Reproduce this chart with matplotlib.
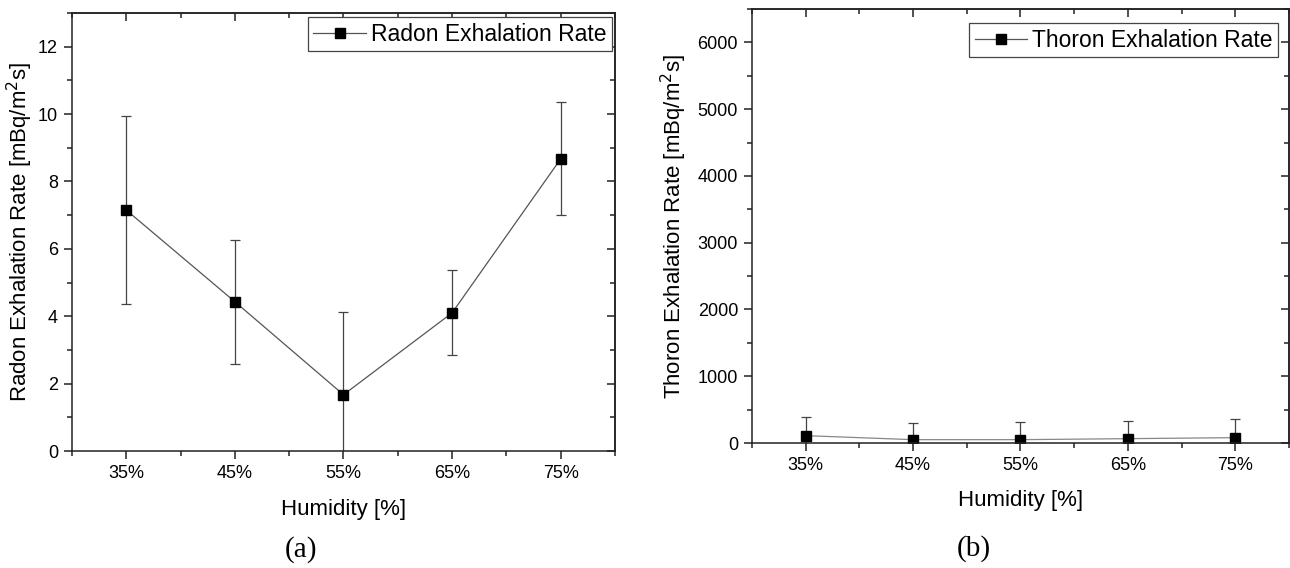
import matplotlib
matplotlib.use('Agg')
import matplotlib.pyplot as plt
from matplotlib.lines import Line2D
from matplotlib.ticker import MultipleLocator, FixedLocator

plt.rcParams['font.family'] = ['Liberation Sans', 'DejaVu Sans']

# Data
humidity = [35, 45, 55, 65, 75]
humidity_labels = ['35%', '45%', '55%', '65%', '75%']

radon_rate = [7.15, 4.43, 1.67, 4.10, 8.67]
radon_err = [2.80, 1.84, 2.45, 1.26, 1.68]

thoron_rate = [110, 50, 50, 65, 80]
thoron_err = [280, 243, 260, 260, 272]

fig = plt.figure(figsize=(12.9, 5.68), dpi=100)

ax1 = fig.add_axes([72 / 1290, 1 - 451 / 568, 543 / 1290, 438 / 568])
ax2 = fig.add_axes([752 / 1290, 1 - 443 / 568, 537 / 1290, 434 / 568])

AX_COLOR = '#222222'


def style_axis(ax, ylim, ymajor, yminor):
    ax.set_xlim(30, 80)
    ax.set_ylim(*ylim)
    ax.xaxis.set_major_locator(FixedLocator(humidity))
    ax.set_xticklabels(humidity_labels)
    ax.xaxis.set_minor_locator(MultipleLocator(10))
    ax.yaxis.set_major_locator(MultipleLocator(ymajor))
    ax.yaxis.set_minor_locator(MultipleLocator(yminor))
    for side in ax.spines.values():
        side.set_linewidth(1.1)
        side.set_color(AX_COLOR)
    ax.tick_params(which='both', direction='out', color=AX_COLOR, width=1.1)
    ax.tick_params(which='major', length=6, labelsize=13, pad=4)
    ax.tick_params(which='minor', length=3.5)

    # top and right ticks point inwards, no labels
    top = ax.secondary_xaxis('top')
    top.xaxis.set_major_locator(FixedLocator(humidity))
    top.xaxis.set_minor_locator(MultipleLocator(10))
    right = ax.secondary_yaxis('right')
    right.yaxis.set_major_locator(MultipleLocator(ymajor))
    right.yaxis.set_minor_locator(MultipleLocator(yminor))
    for sec in (top, right):
        for side in sec.spines.values():
            side.set_linewidth(1.1)
            side.set_color(AX_COLOR)
        sec.tick_params(which='both', direction='in', color=AX_COLOR, width=1.1,
                        labeltop=False, labelright=False)
        sec.tick_params(which='major', length=6)
        sec.tick_params(which='minor', length=3.5)


def add_legend(ax, label, line_color, anchor):
    handle = Line2D([], [], color=line_color, lw=0.9, marker='s', markersize=7,
                    mfc='black', mec='black')
    leg = ax.legend([handle], [label], loc='upper right', bbox_to_anchor=anchor,
                    borderaxespad=0, fontsize=16.5, fancybox=False, framealpha=1,
                    edgecolor='#444444', borderpad=0.25, handlelength=2.3,
                    handletextpad=0.2)
    leg.get_frame().set_linewidth(0.9)


# (a) Radon
ax1.errorbar(humidity, radon_rate, yerr=radon_err, color='#555555', lw=0.9,
             ecolor='#444444', elinewidth=0.9, capsize=3.5, capthick=0.9,
             marker='s', markersize=7, mfc='black', mec='black')
style_axis(ax1, (0, 13), 2, 1)
ax1.set_ylabel('Radon Exhalation Rate [mBq/m$^2$s]', fontsize=16)
ax1.set_xlabel('Humidity [%]', fontsize=16)
ax1.yaxis.set_label_coords(-0.068, 0.5)
ax1.xaxis.set_label_coords(0.5, -0.11)
add_legend(ax1, 'Radon Exhalation Rate', '#555555', (0.9945, 0.991))

# (b) Thoron
ax2.errorbar(humidity, thoron_rate, yerr=thoron_err, color='#888888', lw=0.9,
             ecolor='#444444', elinewidth=0.9, capsize=3.5, capthick=0.9,
             marker='s', markersize=7, mfc='black', mec='black')
style_axis(ax2, (0, 6500), 1000, 500)
ax2.set_ylabel('Thoron Exhalation Rate [mBq/m$^2$s]', fontsize=16)
ax2.set_xlabel('Humidity [%]', fontsize=16)
ax2.yaxis.set_label_coords(-0.117, 0.5)
ax2.xaxis.set_label_coords(0.5, -0.108)
add_legend(ax2, 'Thoron Exhalation Rate', '#555555', (0.9796, 0.968))

fig.text(301 / 1290, 1 - 550 / 568, '(a)', ha='center', va='center',
         fontsize=21, family='Liberation Serif')
fig.text(974 / 1290, 1 - 549 / 568, '(b)', ha='center', va='center',
         fontsize=21, family='Liberation Serif')

fig.savefig('out.png', dpi=100)
